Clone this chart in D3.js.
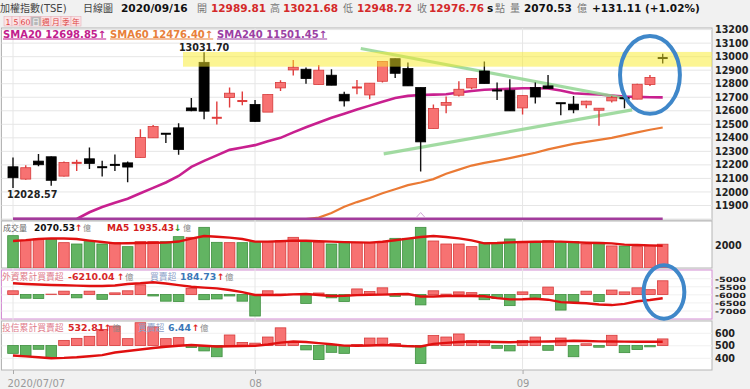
<!DOCTYPE html>
<html lang="zh-Hant">
<head>
    <meta charset="UTF-8">
    <title>加權指數 日線圖</title>
    <script src="https://d3js.org/d3.v7.min.js"></script>
    <style>
        body { margin: 0; background: #f1f1f1; }
        svg { display: block; font-family: "DejaVu Sans", "Noto Sans CJK TC", sans-serif; }
    </style>
</head>
<body>
    <div id="chart"></div>
<script>
// ---------- data ----------
var dates = ["2020/07/07","2020/07/08","2020/07/09","2020/07/10","2020/07/13","2020/07/14","2020/07/15","2020/07/16","2020/07/17",
    "2020/07/20","2020/07/21","2020/07/22","2020/07/23","2020/07/24","2020/07/27","2020/07/28","2020/07/29","2020/07/30","2020/07/31",
    "2020/08/03","2020/08/04","2020/08/05","2020/08/06","2020/08/07","2020/08/10","2020/08/11","2020/08/12","2020/08/13","2020/08/14",
    "2020/08/17","2020/08/18","2020/08/19","2020/08/20","2020/08/21","2020/08/24","2020/08/25","2020/08/26","2020/08/27","2020/08/28",
    "2020/08/31","2020/09/01","2020/09/02","2020/09/03","2020/09/04","2020/09/07","2020/09/08","2020/09/09","2020/09/10","2020/09/11",
    "2020/09/14","2020/09/15","2020/09/16"];

var open  = [12186,12095,12228,12260,12117,12210,12245,12183,12200,12215,12255,12400,12430,12474,12621,12958,12540,12698,12665,12647,
             12590,12769,12902,12907,12794,12863,12722,12765,12717,12818,12985,12912,12772,12469,12641,12715,12769,12894,12750,12752,
             12621,12772,12784,12656,12649,12644,12604,12673,12693,12686,12794,12989.81];
var high  = [12255,12198,12280,12262,12225,12238,12329,12230,12277,12225,12464,12494,12435,12508,12695,13031.70,12669,12772,12742,12680,
             12720,12826,12976,12919,12939,12907,12740,12828,12804,12964,12987,12956,12772,12647,12706,12818,12838,12964,12809,12833,
             12712,12809,12865,12658,12710,12675,12620,12710,12695,12800,12865,13021.68];
var low   = [12028.57,12090,12189,12046,12115,12154,12169,12115,12154,12071,12255,12400,12361,12275,12597,12538,12499,12624,12641,12518,
             12590,12747,12860,12799,12794,12789,12632,12722,12686,12809,12843,12784,12152,12469,12582,12706,12759,12801,12680,12599,
             12573,12654,12765,12567,12582,12619,12489,12661,12619,12686,12784,12948.72];
var close = [12105,12179,12201,12086,12218,12215,12211,12179,12196,12184,12403,12484,12425,12314,12600,12597,12548,12730,12672,12521,
             12720,12809,12922,12838,12900,12789,12673,12772,12804,12964,12877,12784,12370,12617,12661,12759,12838,12801,12745,12599,
             12712,12702,12765,12652,12607,12671,12619,12698,12689,12796,12845.65,12976.76];
var prevClose = 12114;

var sma20  = [11640,11670,11700,11730,11760,11800,11850,11889,11920,11950,11990,12030,12070,12118,12185,12230,12270,12311,12328,12346,
              12374,12400,12440,12478,12513,12548,12578,12609,12638,12666,12695,12710,12717,12719,12722,12735,12746,12755,12759,12762,
              12767,12767,12765,12750,12730,12724,12720,12712,12706,12703,12700,12698.85];
var sma60  = [11360,11380,11395,11410,11425,11440,11455,11470,11490,11505,11520,11540,11560,11580,11600,11620,11640,11660,11680,11700,
              11720,11740,11760,11780,11810,11845,11890,11925,11955,11990,12020,12050,12070,12095,12135,12165,12195,12215,12232,12250,
              12270,12290,12315,12335,12355,12370,12385,12400,12420,12440,12460,12476.40];
var sma240 = [11424,11425,11427,11428,11430,11431,11433,11434,11436,11437,11439,11440,11442,11444,11445,11447,11448,11450,11452,11453,
              11455,11456,11458,11460,11461,11463,11464,11466,11468,11469,11471,11472,11474,11476,11477,11479,11480,11482,11484,11485,
              11487,11488,11490,11491,11493,11494,11495,11497,11498,11499,11500,11501.45];

var volume = [2812,2377,2522,2522,2203,2087,2290,2087,2203,1855,2290,2290,2290,2725,2667,3536,2232,2203,2203,2290,
              2290,2377,2667,2290,2232,2087,2290,2232,2203,2290,2580,2580,3536,2348,2087,2087,1855,2203,2203,2522,
              2290,2290,2377,2290,2290,2087,2232,1920,1910,1855,1921,2070.53];
var volMa5 = [2348,2420,2520,2580,2560,2520,2380,2260,2145,2150,2170,2190,2203,2300,2550,2783,2720,2638,2520,2290,
              2290,2330,2377,2370,2330,2290,2250,2230,2203,2280,2410,2551,2700,2780,2700,2580,2400,2145,2170,2230,
              2260,2280,2290,2290,2250,2200,2170,2140,2029,2000,1970,1935.43];

var foreignNet = [50,-50,-55,5,45,-45,45,-65,22,50,130,-20,-90,-95,80,-70,-60,-20,-90,-290,
                  50,5,5,-120,20,-45,-95,75,40,90,-25,-5,-140,50,5,35,25,-70,-55,-150,
                  35,-60,100,-210,-100,45,-95,60,35,90,65,184.73];
var foreignCum = [-5286,-5330,-5360,-5391,-5410,-5430,-5450,-5453,-5420,-5330,-5286,-5224,-5300,-5400,-5497,-5550,-5598,-5700,-5830,-6012,
                  -6012,-6012,-5970,-5950,-6010,-6070,-6060,-6020,-5990,-5985,-5965,-5950,-6100,-6100,-6075,-6075,-6075,-6090,-6200,-6282,
                  -6270,-6240,-6300,-6450,-6490,-6520,-6600,-6633,-6560,-6400,-6320,-6210.04];

var trustNet = [-7.7,-10.3,-3.7,-11.7,5,7,9,15.7,19,6.7,22.3,18.3,6.7,7.7,-2,-5.3,-11,10.3,3,2.3,
                8.3,17.3,3.7,-4.3,-13.7,-6.7,-7.7,1,7.3,7.3,2,-1.3,-17.7,9.7,8.3,11.3,4.7,5,-2.7,-5.3,
                5,8.3,-4.7,7.3,-11,1.7,-1.7,10,-7,-4,-1.3,6.44];
var trustCum = [422,415,408,401,403,408,416,425,446,458,470,482,492,500,506,500,494,496,498,499,
                510,525,534,530,521,512,501,500,502,506,502,497,494,515,523,530,534,532,530,529,
                531,533,534,536,540,538,535,534,533,533,533,532.81];

var priceTicks = [13200,13100,13000,12900,12800,12700,12600,12500,12400,12300,12200,12100,12000,11900];
var volTicks = [2000];
var foreignTicks = [-5000,-5500,-6000,-6500,-7000];
var trustTicks = [600,500,400];
var xTickIdx = [0,19,40];
var xTickLabels = ["2020/07/07","08","09"];

// drawn notes on the chart (data units)
var resistBand = [12926,13035];
var trendDown = [[27.3,13060],[48.4,12685]];
var trendUp = [[29.1,12281],[48.6,12607]];
var markIdx = 32;

// ---------- layout ----------
var width = 750, height = 389;
var L = 1.5, R = 712;
var main = {top: 28, bottom: 220},
    vol = {top: 221, bottom: 268},
    fore = {top: 270, bottom: 319},
    trust = {top: 321, bottom: 370};

var svg = d3.select("#chart")
    .append("svg")
        .attr("width", width)
        .attr("height", height);

svg.append("rect").attr("width", width).attr("height", height).attr("fill", "#f1f1f1");

var x = d3.scaleLinear().domain([0, dates.length - 1]).range([13, 662.7]);
var yMain = d3.scaleLinear().domain([11800, 13200]).range([219, 29.6]).clamp(true);
var yVol = d3.scaleLinear().domain([0, 4087]).range([vol.bottom, vol.top]);
var yF = d3.scaleLinear().domain([-7000, -5000]).range([311, 278.7]);
var fBar = d3.scaleLinear().domain([-330, 330]).range([fore.bottom, fore.top]);
var yT = d3.scaleLinear().domain([400, 600]).range([358.3, 333.3]);
var tBar = d3.scaleLinear().domain([-24, 24]).range([trust.bottom, trust.top]);

var red = "#f77272", redLine = "#d63a3a", green = "#62b462", greenLine = "#3f8f3f";

// panel boxes
[main, vol, fore, trust].forEach(function(p, i) {
    svg.append("rect")
        .attr("x", L).attr("y", p.top)
        .attr("width", R - L).attr("height", p.bottom - p.top)
        .attr("fill", "#fff")
        .attr("stroke", i == 2 ? "#d48ed4" : "#b5b5b5")
        .attr("stroke-width", 1);
    svg.append("clipPath").attr("id", "clip" + i)
        .append("rect").attr("x", L).attr("y", p.top).attr("width", R - L).attr("height", p.bottom - p.top);
});

// grid
svg.append("g").selectAll("line").data(priceTicks.concat([11800])).enter().append("line")
    .attr("x1", L).attr("x2", R)
    .attr("y1", function(d) { return yMain(d); }).attr("y2", function(d) { return yMain(d); })
    .attr("stroke", "#e6e6e6");
svg.append("g").selectAll("line").data(foreignTicks).enter().append("line")
    .attr("x1", L).attr("x2", R)
    .attr("y1", function(d) { return yF(d); }).attr("y2", function(d) { return yF(d); })
    .attr("stroke", "#f0f0f0");
svg.append("g").selectAll("line").data(trustTicks).enter().append("line")
    .attr("x1", L).attr("x2", R)
    .attr("y1", function(d) { return yT(d); }).attr("y2", function(d) { return yT(d); })
    .attr("stroke", "#f0f0f0");
svg.append("g").selectAll("line").data(xTickIdx).enter().append("line")
    .attr("x1", function(d) { return x(d); }).attr("x2", function(d) { return x(d); })
    .attr("y1", main.top).attr("y2", trust.bottom)
    .attr("stroke", "#e6e6e6");

// ---------- main panel ----------
var gMain = svg.append("g").attr("clip-path", "url(#clip0)");
var idx = d3.range(dates.length);

function lineOf(arr, ys) {
    return d3.line().x(function(i) { return x(i); }).y(function(i) { return ys(arr[i]); });
}

gMain.append("path").datum(idx).attr("d", lineOf(sma60, yMain))
    .attr("fill", "none").attr("stroke", "#ea7a35").attr("stroke-width", 2.2);
gMain.append("path").datum(idx).attr("d", lineOf(sma20, yMain))
    .attr("fill", "none").attr("stroke", "#c8208f").attr("stroke-width", 2.6);
gMain.append("path").datum(idx).attr("d", lineOf(sma240, yMain))
    .attr("fill", "none").attr("stroke", "#a23c9c").attr("stroke-width", 3);

// trend lines
[trendDown, trendUp].forEach(function(t) {
    gMain.append("line")
        .attr("x1", x(t[0][0])).attr("y1", yMain(t[0][1]))
        .attr("x2", x(t[1][0])).attr("y2", yMain(t[1][1]))
        .attr("stroke", "#92d592").attr("stroke-opacity", 0.85).attr("stroke-width", 3.2);
});

// candles
var up = function(i) { return close[i] >= open[i]; };
gMain.selectAll("wick").data(idx).enter().append("line")
    .attr("x1", function(i) { return x(i); }).attr("x2", function(i) { return x(i); })
    .attr("y1", function(i) { return yMain(high[i]); }).attr("y2", function(i) { return yMain(low[i]); })
    .attr("stroke", function(i) { return up(i) ? "#e03c3c" : "#111"; })
    .attr("stroke-width", 1.4);
gMain.selectAll("body").data(idx).enter().append("rect")
    .attr("x", function(i) { return x(i) - 5; })
    .attr("width", 10)
    .attr("y", function(i) {
        var h = Math.abs(yMain(open[i]) - yMain(close[i]));
        return Math.min(yMain(open[i]), yMain(close[i])) - (h < 2 ? 1 : 0);
    })
    .attr("height", function(i) { return Math.max(2, Math.abs(yMain(open[i]) - yMain(close[i]))); })
    .attr("fill", function(i) {
        var h = Math.abs(yMain(open[i]) - yMain(close[i]));
        if (!up(i)) return "#000";
        return h < 2 ? "#e03c3c" : red;
    })
    .attr("stroke", function(i) { return up(i) ? redLine : "#000"; })
    .attr("stroke-width", function(i) { return Math.abs(yMain(open[i]) - yMain(close[i])) < 2 ? 0 : 0.8; });

// resistance band drawn over the candles
gMain.append("rect")
    .attr("x", 183).attr("width", R - 183)
    .attr("y", yMain(resistBand[1]))
    .attr("height", yMain(resistBand[0]) - yMain(resistBand[1]))
    .attr("fill", "#faeb28").attr("opacity", 0.5);

// small marker near the bottom
gMain.append("path")
    .attr("d", "M" + (x(markIdx) - 4) + ",217 L" + x(markIdx) + ",212.5 L" + (x(markIdx) + 4) + ",217")
    .attr("fill", "none").attr("stroke", "#d2a8d6").attr("stroke-width", 1);

// high / low labels
var hiI = d3.maxIndex(high), loI = d3.minIndex(low);
svg.append("text").attr("x", x(hiI)).attr("y", yMain(high[hiI]) - 1.5)
    .attr("text-anchor", "middle").attr("font-size", 9.6).attr("font-weight", "bold").attr("fill", "#222")
    .text(high[hiI].toFixed(2));
svg.append("text").attr("x", 7).attr("y", yMain(low[loI]) + 9.5)
    .attr("font-size", 9.6).attr("font-weight", "bold").attr("fill", "#222")
    .text(low[loI].toFixed(2));

// ---------- volume ----------
var gVol = svg.append("g").attr("clip-path", "url(#clip1)");
var rising = function(i) { return close[i] >= (i == 0 ? prevClose : close[i - 1]); };
gVol.selectAll("rect").data(idx).enter().append("rect")
    .attr("x", function(i) { return x(i) - 5.3; })
    .attr("width", 10.6)
    .attr("y", function(i) { return yVol(volume[i]); })
    .attr("height", function(i) { return yVol(0) - yVol(volume[i]); })
    .attr("fill", function(i) { return rising(i) ? red : green; })
    .attr("stroke", function(i) { return rising(i) ? redLine : greenLine; })
    .attr("stroke-width", 0.8);
gVol.append("path").datum(idx).attr("d", lineOf(volMa5, yVol))
    .attr("fill", "none").attr("stroke", "#e01010").attr("stroke-width", 2.4);

// ---------- foreign investors ----------
var gF = svg.append("g").attr("clip-path", "url(#clip2)");
gF.selectAll("rect").data(idx).enter().append("rect")
    .attr("x", function(i) { return x(i) - 5.3; })
    .attr("width", 10.6)
    .attr("y", function(i) { return Math.min(fBar(0), fBar(foreignNet[i])); })
    .attr("height", function(i) { return Math.abs(fBar(foreignNet[i]) - fBar(0)); })
    .attr("fill", function(i) { return foreignNet[i] >= 0 ? red : green; })
    .attr("stroke", function(i) { return foreignNet[i] >= 0 ? redLine : greenLine; })
    .attr("stroke-width", 0.8);
gF.append("path").datum(idx).attr("d", lineOf(foreignCum, yF))
    .attr("fill", "none").attr("stroke", "#e01010").attr("stroke-width", 2.4);

// ---------- investment trust ----------
var gT = svg.append("g").attr("clip-path", "url(#clip3)");
gT.selectAll("rect").data(idx).enter().append("rect")
    .attr("x", function(i) { return x(i) - 5.3; })
    .attr("width", 10.6)
    .attr("y", function(i) { return Math.min(tBar(0), tBar(trustNet[i])); })
    .attr("height", function(i) { return Math.abs(tBar(trustNet[i]) - tBar(0)); })
    .attr("fill", function(i) { return trustNet[i] >= 0 ? red : green; })
    .attr("stroke", function(i) { return trustNet[i] >= 0 ? redLine : greenLine; })
    .attr("stroke-width", 0.8);
gT.append("path").datum(idx).attr("d", lineOf(trustCum, yT))
    .attr("fill", "none").attr("stroke", "#e01010").attr("stroke-width", 2.4);

// annotation ellipses
svg.append("ellipse")
    .attr("cx", x(50)).attr("cy", yMain(12865))
    .attr("rx", x(52.35) - x(50)).attr("ry", yMain(12865) - yMain(13152))
    .attr("fill", "none").attr("stroke", "#3f87c9").attr("stroke-width", 4);
svg.append("ellipse")
    .attr("cx", x(51.1)).attr("cy", yF(-5826))
    .attr("rx", x(52.7) - x(51.1)).attr("ry", yF(-5826) - yF(-4174))
    .attr("fill", "none").attr("stroke", "#3f87c9").attr("stroke-width", 4);

// ---------- axes ----------
function rightAxis(scale, ticks, size, len) {
    var g = svg.append("g")
        .attr("transform", "translate(" + R + ",0)")
        .call(d3.axisRight(scale).tickValues(ticks).tickSize(0).tickPadding(3)
            .tickFormat(function(d) { return String(d); }));
    g.select(".domain").remove();
    var t = g.selectAll("text").attr("font-family", "DejaVu Sans").attr("font-size", size)
        .attr("font-weight", "bold").attr("fill", "#222");
    if (len) t.attr("textLength", len).attr("lengthAdjust", "spacingAndGlyphs");
}
rightAxis(yMain, priceTicks, 9.6);
rightAxis(yVol, volTicks, 9.6);
rightAxis(yF, foreignTicks, 7.2, 31);
rightAxis(yT, trustTicks, 9.6);

var xAxis = svg.append("g")
    .attr("transform", "translate(0," + trust.bottom + ")")
    .call(d3.axisBottom(x).tickValues(xTickIdx).tickSize(4).tickPadding(6)
        .tickFormat(function(d, i) { return xTickLabels[i]; }));
xAxis.select(".domain").remove();
xAxis.selectAll("line").attr("stroke", "#aaa");
xAxis.selectAll("text").attr("font-family", "DejaVu Sans").attr("font-size", 10).attr("fill", "#999");
xAxis.select(".tick text").attr("text-anchor", "start").attr("dx", -6);

// ---------- texts ----------
function put(g, xp, yp, s, color, size, bold, extra) {
    var t = g.append("text").attr("x", xp).attr("y", yp)
        .attr("font-size", size).attr("fill", color).text(s);
    if (bold) t.attr("font-weight", "bold");
    if (extra) t.attr("text-decoration", extra);
    return t;
}
var last = dates.length - 1;
var chg = close[last] - close[last - 1];

// header
put(svg, 0, 12, "加權指數(TSE)", "#444", 10);
put(svg, 83, 12, "日線圖", "#444", 10);
put(svg, 121, 12, dates[last], "#111", 10.6, true);
put(svg, 197, 12, "開", "#777", 10);
put(svg, 211, 12, open[last].toFixed(2), "#d42a2a", 10.5, true);
put(svg, 270, 12, "高", "#777", 10);
put(svg, 283, 12, high[last].toFixed(2), "#d42a2a", 10.5, true);
put(svg, 343, 12, "低", "#777", 10);
put(svg, 357, 12, low[last].toFixed(2), "#d42a2a", 10.5, true);
put(svg, 417, 12, "收", "#777", 10);
put(svg, 429, 12, close[last].toFixed(2), "#d42a2a", 10.5, true);
put(svg, 487, 12, "s", "#111", 10.5, true);
put(svg, 495, 12, "點", "#777", 10);
put(svg, 510, 12, "量", "#777", 10);
put(svg, 524, 12, volume[last].toFixed(2), "#111", 10.5, true);
put(svg, 577, 12, "億", "#777", 10);
put(svg, 592, 12, "+" + chg.toFixed(2) + " (+" + (chg / close[last - 1] * 100).toFixed(2) + "%)", "#111", 10.5, true);

// period buttons
var btns = ["1", "5", "60", "日", "週", "月", "季", "年"], bw = [8, 8, 11, 10, 10, 10, 10, 10];
var bx = 4;
btns.forEach(function(b, i) {
    svg.append("rect").attr("x", bx).attr("y", 16.5).attr("width", bw[i]).attr("height", 9.5)
        .attr("fill", b == "日" ? "#b8b8b8" : "#fbe3e6").attr("stroke", "#e6b3bb").attr("stroke-width", 0.6);
    svg.append("text").attr("x", bx + bw[i] / 2).attr("y", 24.5).attr("text-anchor", "middle")
        .attr("font-size", 7.8).attr("fill", b == "日" ? "#fff" : "#d44").text(b);
    bx += bw[i];
});

// SMA legend
put(svg, 3, 37.5, "SMA20 " + sma20[last].toFixed(2) + "↑", "#c21d8e", 10, true, "underline");
put(svg, 110, 37.5, "SMA60 " + sma60[last].toFixed(2) + "↑", "#e8803a", 10, true, "underline");
put(svg, 217, 37.5, "SMA240 " + sma240[last].toFixed(2) + "↑", "#9b3fa4", 10, true, "underline");

// volume legend
put(svg, 3, 231, "成交量", "#666", 8);
put(svg, 34, 231, volume[last].toFixed(2), "#111", 9, true);
put(svg, 75, 231, "↑", "#e02020", 9, true);
put(svg, 83, 231, "億", "#888", 8);
put(svg, 107, 231, "MA5", "#d42020", 9, true);
put(svg, 133, 231, volMa5[last].toFixed(2), "#d42020", 9, true);
put(svg, 174, 231, "↓", "#2a9a2a", 9, true);
put(svg, 183, 231, "億", "#888", 8);

// foreign legend
put(svg, 2, 279.5, "外資累計買賣超", "#e07a8a", 8.8);
put(svg, 68, 279.5, foreignCum[last].toFixed(2), "#d82828", 9.4, true);
put(svg, 117, 279.5, "↑", "#e02020", 9, true);
put(svg, 125, 279.5, "億", "#888", 8.5);
put(svg, 150, 279.5, "買賣超", "#8aa0c8", 8.8);
put(svg, 180, 279.5, foreignNet[last].toFixed(2), "#3a78b8", 9.4, true);
put(svg, 217, 279.5, "↑", "#e02020", 9, true);
put(svg, 225, 279.5, "億", "#888", 8.5);

// trust legend
put(svg, 2, 331, "投信累計買賣超", "#e07a8a", 8.8);
put(svg, 68, 331, trustCum[last].toFixed(2), "#d82828", 9.4, true);
put(svg, 104, 331, "↑", "#e02020", 9, true);
put(svg, 112, 331, "億", "#888", 8.5);
put(svg, 138, 331, "買賣超", "#8aa0c8", 8.8);
put(svg, 168, 331, trustNet[last].toFixed(2), "#3a78b8", 9.4, true);
put(svg, 192, 331, "↑", "#e02020", 9, true);
put(svg, 200, 331, "億", "#888", 8.5);
</script>
</body>
</html>
